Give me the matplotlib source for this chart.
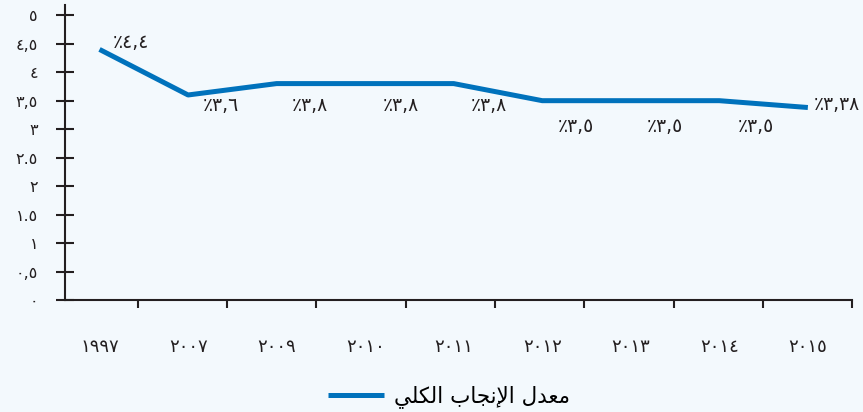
import matplotlib.pyplot as plt

plt.rcParams['font.family'] = ['DejaVu Sans']

# data
years = ['١٩٩٧', '٢٠٠٧', '٢٠٠٩', '٢٠١٠', '٢٠١١', '٢٠١٢', '٢٠١٣', '٢٠١٤', '٢٠١٥']
fertility = [4.4, 3.6, 3.8, 3.8, 3.8, 3.5, 3.5, 3.5, 3.38]
value_labels = ['٪٤,٤', '٪٣,٦', '٪٣,٨', '٪٣,٨', '٪٣,٨', '٪٣,٥', '٪٣,٥', '٪٣,٥', '٪٣,٣٨']
y_ticks = [0, 0.5, 1, 1.5, 2, 2.5, 3, 3.5, 4, 4.5, 5]
y_tick_labels = ['٠', '٠,٥', '١', '١.٥', '٢', '٢.٥', '٣', '٣,٥', '٤', '٤,٥', '٥']
# "معدل الإنجاب الكلي" in shaped presentation forms, visual order
legend_label = ('\ufef2\ufee0\ufedc\ufedf\ufe8d' + ' ' +
                '\ufe8f\ufe8e\ufea0\ufee7\ufef9\ufe8d' + ' ' +
                '\ufedd\ufeaa\ufecc\ufee3')

# label offsets in pixels (dx, dy)
label_offsets = [(13, 7), (15, -11), (15, -22), (18, -22), (17, -22),
                 (16, -26), (16, -26), (18, -26), (6, 3)]

bg = '#f3f9fd'
ink = '#231f20'
blue = '#0072bc'

fig = plt.figure(figsize=(8.63, 4.12), dpi=100, facecolor=bg)
ax = fig.add_axes([65 / 863, 1 - 300 / 412, (852.3 - 65) / 863, (300 - 5) / 412])
ax.set_facecolor(bg)

x = list(range(len(years)))
line, = ax.plot(x, fertility, color=blue, lw=3.6, solid_capstyle='butt',
                label=legend_label)

for xi, yi, txt, (dx, dy) in zip(x, fertility, value_labels, label_offsets):
    ax.annotate(txt, (xi, yi), xytext=(dx, dy), textcoords='offset pixels',
                ha='left', va='center', fontsize=13.5, color=ink)

ax.set_xlim(-0.39, 8.5)
ax.set_ylim(0, 5.18)

ax.set_yticks(y_ticks)
ax.set_yticklabels(y_tick_labels, fontsize=11.5, color=ink)
ax.tick_params(axis='y', direction='inout', length=13, width=1.5,
               color=ink, pad=13)

# boundary ticks between categories, labels centered in each category
ax.set_xticks([0.43 + 1.009 * i for i in x])
ax.set_xticklabels([])
ax.set_xticks(x, minor=True)
ax.set_xticklabels(years, minor=True, fontsize=13, color=ink)
ax.tick_params(axis='x', which='major', direction='out', length=5.5,
               width=1.5, color=ink)
ax.tick_params(axis='x', which='minor', length=0, pad=27)

for s in ['top', 'right']:
    ax.spines[s].set_visible(False)
for s in ['left', 'bottom']:
    ax.spines[s].set_color(ink)
    ax.spines[s].set_linewidth(1.5)

fig.legend(handles=[line], loc='center', bbox_to_anchor=(449 / 863, 1 - 397 / 412),
           frameon=False, fontsize=15.5, handlelength=2.6, handletextpad=0.5)

fig.savefig('out.png', dpi=100, facecolor=bg)
